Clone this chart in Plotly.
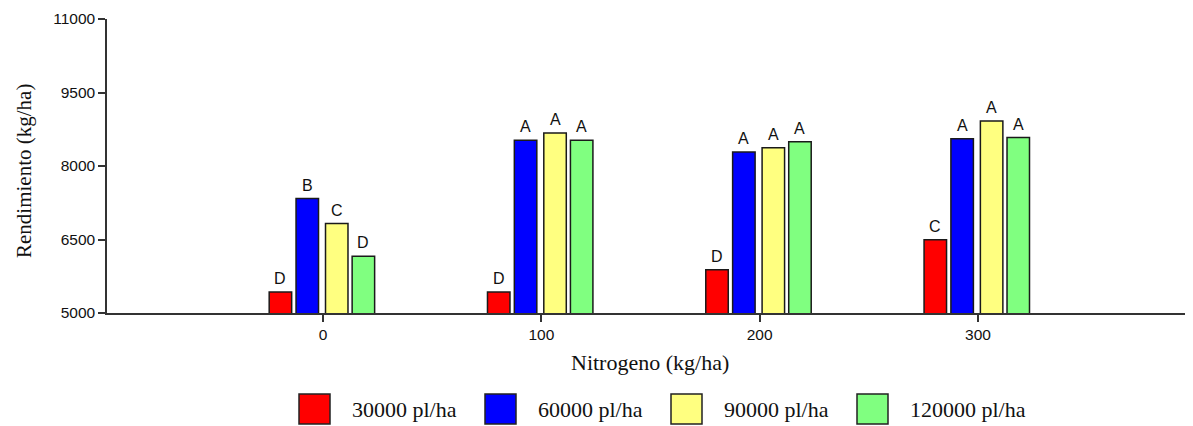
import plotly.graph_objects as go

# ---- data ----
nitrogen = ["0", "100", "200", "300"]
series_names = ["30000 pl/ha", "60000 pl/ha", "90000 pl/ha", "120000 pl/ha"]
y_30000 = [5430, 5430, 5885, 6495]
y_60000 = [7335, 8525, 8285, 8555]
y_90000 = [6825, 8675, 8370, 8920]
y_120000 = [6160, 8525, 8495, 8580]
letters_30000 = ["D", "D", "D", "C"]
letters_60000 = ["B", "A", "A", "A"]
letters_90000 = ["C", "A", "A", "A"]
letters_120000 = ["D", "A", "A", "A"]
y_ticks = [5000, 6500, 8000, 9500, 11000]

# ---- style ----
colors = ["#FF0000", "#0000FF", "#FFFF80", "#80FF80"]
offsets = [-0.247, -0.124, 0.011, 0.133]
bar_w = 0.103
PAGE_PAD = 8  # default body margin of the html page
W, H = 1193 - PAGE_PAD, 426 - PAGE_PAD
ML, MR, MT, MB = 107 - PAGE_PAD, 0, 19 - PAGE_PAD, 426 - 313
PW, PH = W - ML - MR, H - MT - MB
sans = "Arial, Liberation Sans, sans-serif"
serif = "Times New Roman, Liberation Serif, serif"

series = [y_30000, y_60000, y_90000, y_120000]
letters = [letters_30000, letters_60000, letters_90000, letters_120000]
xs = list(range(len(nitrogen)))

fig = go.Figure()
annotations = []
shapes = []
for k, (name, vals, col) in enumerate(zip(series_names, series, colors)):
    fig.add_trace(go.Bar(
        x=xs, y=vals, name=name, offset=offsets[k], width=bar_w,
        marker=dict(color=col, line=dict(color="#1a1a1a", width=1.5)),
        showlegend=False,
    ))
    for i, v in enumerate(vals):
        annotations.append(dict(
            x=xs[i] + offsets[k] + bar_w / 2, y=v, xref="x", yref="y",
            text=letters[k][i], showarrow=False, yanchor="bottom", yshift=3,
            font=dict(family=sans, size=16, color="#111"),
        ))


def px_to_paper_x(px):
    return (px - PAGE_PAD - ML) / PW


def px_to_paper_y(py):
    return (H - MB - (py - PAGE_PAD)) / PH


# manual legend (large swatches), positions in page pixels
leg_x0, leg_step, sq_w, sq_top, sq_bot, txt_dx = 299, 186, 31, 394, 424, 51
for k, (name, col) in enumerate(zip(series_names, colors)):
    lx = leg_x0 + leg_step * k
    shapes.append(dict(
        type="rect", xref="paper", yref="paper",
        x0=px_to_paper_x(lx), x1=px_to_paper_x(lx + sq_w),
        y0=px_to_paper_y(sq_bot), y1=px_to_paper_y(sq_top),
        fillcolor=col, line=dict(color="#222", width=1.5),
    ))
    annotations.append(dict(
        x=px_to_paper_x(lx + txt_dx), y=px_to_paper_y((sq_top + sq_bot) / 2),
        xref="paper", yref="paper", xanchor="left", yanchor="middle",
        text=name, showarrow=False,
        font=dict(family=serif, size=22, color="#111"),
    ))

# axis titles
annotations.append(dict(
    x=px_to_paper_x(650), y=px_to_paper_y(362), xref="paper", yref="paper",
    xanchor="center", yanchor="middle", text="Nitrogeno (kg/ha)", showarrow=False,
    font=dict(family=serif, size=22, color="#111"),
))
annotations.append(dict(
    x=px_to_paper_x(24), y=px_to_paper_y(171), xref="paper", yref="paper",
    xanchor="center", yanchor="middle", text="Rendimiento (kg/ha)", showarrow=False,
    textangle=-90, font=dict(family=serif, size=21, color="#111"),
))

fig.update_layout(
    width=W, height=H, autosize=False,
    margin=dict(l=ML, r=MR, t=MT, b=MB, pad=0),
    plot_bgcolor="white", paper_bgcolor="white",
    barmode="overlay",
    showlegend=False,
    annotations=annotations, shapes=shapes,
    xaxis=dict(
        range=[-0.99, 3.985], tickvals=xs, ticktext=nitrogen,
        showgrid=False, zeroline=False, showline=True,
        linecolor="#333", linewidth=1.5,
        ticks="outside", ticklen=7, tickwidth=1.5, tickcolor="#333",
        tickfont=dict(family=sans, size=15.5, color="#111"),
    ),
    yaxis=dict(
        range=[5000, 11000], tickvals=y_ticks, ticktext=[str(v) for v in y_ticks],
        showgrid=False, zeroline=False, showline=True,
        linecolor="#333", linewidth=1.5,
        ticks="outside", ticklen=7, tickwidth=1.5, tickcolor="#333",
        tickfont=dict(family=sans, size=15.5, color="#111"),
    ),
)

fig.write_html("out.html")
